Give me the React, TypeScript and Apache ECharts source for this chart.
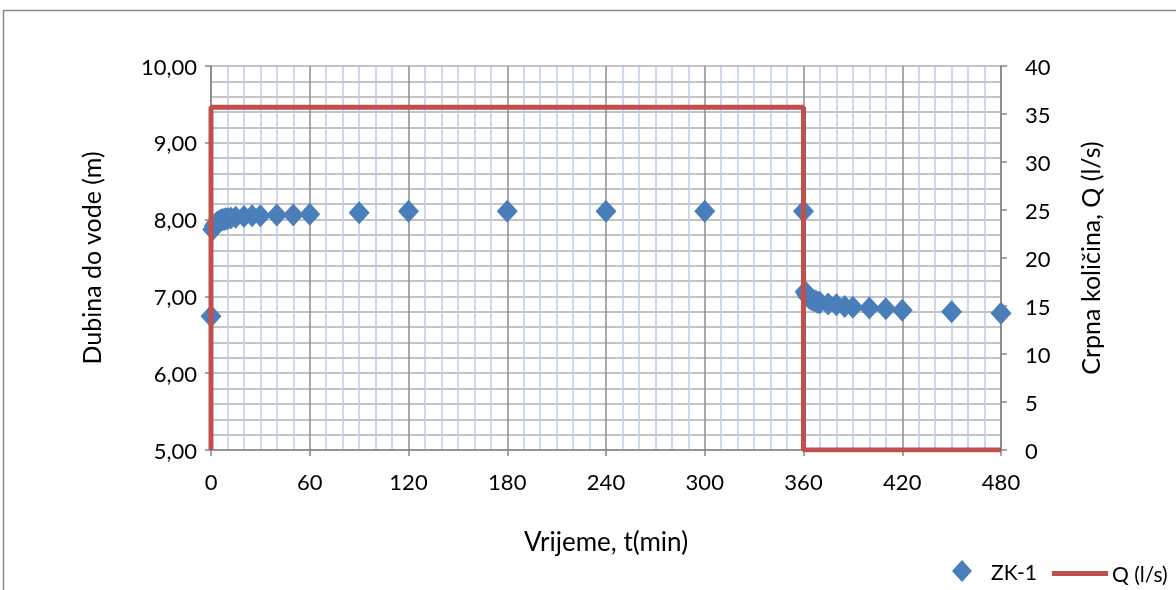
import React, { useEffect, useRef } from "react";
import * as echarts from "echarts";

const timeMin: number[] = [0, 1, 2, 3, 4, 5, 6, 7, 8, 9, 10, 12, 15, 20, 25, 30, 40, 50, 60, 90, 120, 180, 240, 300, 360, 361, 362, 363, 364, 365, 366, 367, 368, 369, 370, 375, 380, 385, 390, 400, 410, 420, 450, 480];
const depth: number[] = [6.74, 7.87, 7.92, 7.95, 7.97, 7.98, 7.99, 8.0, 8.0, 8.01, 8.01, 8.02, 8.03, 8.04, 8.05, 8.05, 8.06, 8.06, 8.07, 8.09, 8.11, 8.11, 8.11, 8.11, 8.11, 7.06, 7.02, 6.99, 6.97, 6.96, 6.95, 6.94, 6.93, 6.92, 6.92, 6.9, 6.89, 6.87, 6.86, 6.85, 6.84, 6.82, 6.8, 6.78];
const qTime: number[] = [0, 0, 360, 360, 480];
const qValue: number[] = [0, 35.7, 35.7, 0, 0];
const xTicks: number[] = [0, 60, 120, 180, 240, 300, 360, 420, 480];

const FONT = "Lato";

export default function App() {
  const ref = useRef<HTMLDivElement>(null);
  useEffect(() => {
    if (!ref.current) return;
    const chart = echarts.init(ref.current, null, { renderer: "svg" });
    const textColor = "#000";
    chart.setOption({
      animation: false,
      textStyle: { fontFamily: FONT },
      grid: { left: 211, right: 175, top: 66, bottom: 140, containLabel: false },
      graphic: [
        {
          type: "rect",
          shape: { x: 3.5, y: 10.5, width: 1200, height: 640 },
          style: { fill: "none", stroke: "#8a8a8a", lineWidth: 1.5 },
          silent: true,
        },
      ],
      legend: [
        {
          data: [{ name: "ZK-1", icon: "diamond" }],
          left: 947,
          top: 555,
          itemWidth: 20,
          itemHeight: 22,
          textStyle: { fontFamily: FONT, fontSize: 21, color: textColor, padding: [0, 0, 0, 14] },
        },
        {
          data: [{ name: "Q (l/s)", icon: "rect" }],
          left: 1047,
          top: 558,
          itemWidth: 56,
          itemHeight: 5,
          textStyle: { fontFamily: FONT, fontSize: 21, color: textColor, padding: [0, 0, 0, -1] },
        },
      ],
      xAxis: {
        type: "value",
        min: 0,
        max: 480,
        interval: 60,
        name: "Vrijeme, t(min)",
        nameLocation: "middle",
        nameGap: 78,
        nameTextStyle: { fontFamily: FONT, fontSize: 26, color: textColor },
        axisLine: { show: true, onZero: false, lineStyle: { color: "#868686", width: 1.5 } },
        axisTick: { show: true, inside: false, length: 6, lineStyle: { color: "#868686", width: 1.5 } },
        axisLabel: {
          margin: 20,
          fontFamily: FONT,
          fontSize: 22,
          color: textColor,
          customValues: xTicks,
        },
        splitLine: { show: true, lineStyle: { color: "#8c8c8c", width: 1.5 } },
        minorTick: { show: false, splitNumber: 6 },
        minorSplitLine: { show: true, lineStyle: { color: "#b9cdeb", width: 1.5 } },
      },
      yAxis: [
        {
          type: "value",
          min: 5,
          max: 10,
          interval: 1,
          position: "left",
          name: "Dubina do vode (m)",
          nameLocation: "middle",
          nameGap: 108,
          nameRotate: 90,
          nameTextStyle: { fontFamily: FONT, fontSize: 25, color: textColor },
          axisLine: { show: true, lineStyle: { color: "#868686", width: 1.5 } },
          axisTick: { show: true, inside: false, length: 6, lineStyle: { color: "#868686", width: 1.5 } },
          axisLabel: {
            margin: 14,
            fontFamily: FONT,
            fontSize: 22,
            color: textColor,
            formatter: (v: number) => v.toFixed(2).replace(".", ","),
          },
          splitLine: { show: true, lineStyle: { color: "#b0b0b0", width: 1.5 } },
          minorTick: { show: false, splitNumber: 5 },
          minorSplitLine: { show: true, lineStyle: { color: "#b0b0b0", width: 1.5 } },
        },
        {
          type: "value",
          min: 0,
          max: 40,
          interval: 5,
          position: "right",
          name: "Crpna količina, Q (l/s)",
          nameLocation: "middle",
          nameGap: 76,
          nameRotate: 90,
          nameTextStyle: { fontFamily: FONT, fontSize: 25, color: textColor },
          axisLine: { show: true, lineStyle: { color: "#868686", width: 1.5 } },
          axisTick: { show: true, inside: false, length: 6, lineStyle: { color: "#868686", width: 1.5 } },
          axisLabel: { margin: 24, fontFamily: FONT, fontSize: 22, color: textColor },
          splitLine: { show: false },
        },
      ],
      series: [
        {
          name: "ZK-1",
          type: "scatter",
          yAxisIndex: 0,
          symbol: "diamond",
          symbolSize: [21, 23],
          itemStyle: { color: "#4a7ebb", opacity: 1 },
          data: timeMin.map((t, i) => [t, depth[i]]),
          z: 2,
        },
        {
          name: "Q (l/s)",
          type: "line",
          yAxisIndex: 1,
          symbol: "none",
          lineStyle: { color: "#c0504d", width: 5 },
          itemStyle: { color: "#c0504d" },
          data: qTime.map((t, i) => [t, qValue[i]]),
          z: 3,
        },
      ],
    });
    return () => chart.dispose();
  }, []);
  return <div ref={ref} style={{ position: "fixed", left: 0, top: 0, width: 1176, height: 590 }} />;
}
